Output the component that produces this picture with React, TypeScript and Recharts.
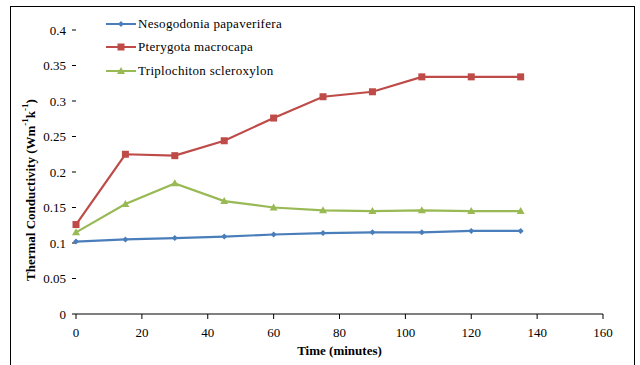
import React from 'react';
import { LineChart, Line, XAxis, YAxis, Label } from 'recharts';

const times = [0, 15, 30, 45, 60, 75, 90, 105, 120, 135];
const nesogodonia = [0.102, 0.105, 0.107, 0.109, 0.112, 0.114, 0.115, 0.115, 0.117, 0.117];
const pterygota = [0.126, 0.225, 0.223, 0.244, 0.276, 0.306, 0.313, 0.334, 0.334, 0.334];
const triplochiton = [0.115, 0.155, 0.184, 0.159, 0.15, 0.146, 0.145, 0.146, 0.145, 0.145];
const xTicks = [0, 20, 40, 60, 80, 100, 120, 140, 160];
const yTicks = [0, 0.05, 0.1, 0.15, 0.2, 0.25, 0.3, 0.35, 0.4];

const series = [
  { key: 'neso', name: 'Nesogodonia papaverifera', color: '#4A7EBB', marker: 'diamond' },
  { key: 'ptery', name: 'Pterygota macrocapa', color: '#BE4B48', marker: 'square' },
  { key: 'tripl', name: 'Triplochiton scleroxylon', color: '#98B954', marker: 'triangle' },
];

const data = times.map((t, i) => ({
  t,
  neso: nesogodonia[i],
  ptery: pterygota[i],
  tripl: triplochiton[i],
}));

const font = '"Liberation Serif", "DejaVu Serif", "Times New Roman", serif';

const Marker = ({ cx, cy, kind, color }: { cx: number; cy: number; kind: string; color: string }) => {
  if (kind === 'square') return <rect x={cx - 3.5} y={cy - 3.5} width={7} height={7} fill={color} />;
  if (kind === 'triangle') return <path d={`M${cx},${cy - 4} L${cx + 4},${cy + 3} L${cx - 4},${cy + 3} Z`} fill={color} />;
  return <path d={`M${cx},${cy - 3} L${cx + 3},${cy} L${cx},${cy + 3} L${cx - 3},${cy} Z`} fill={color} />;
};

const LegendBox = () => (
  <div style={{ position: 'absolute', left: 106, top: 12, fontFamily: font, fontSize: 13, color: '#000' }}>
    {series.map((s) => (
      <div key={s.key} style={{ display: 'flex', alignItems: 'center', height: 23.5 }}>
        <svg width={30} height={10}>
          <line x1={0} y1={5} x2={30} y2={5} stroke={s.color} strokeWidth={2} />
          <Marker cx={15} cy={5} kind={s.marker} color={s.color} />
        </svg>
        <span style={{ marginLeft: 2, letterSpacing: 0.3 }}>{s.name}</span>
      </div>
    ))}
  </div>
);

const YLabel = () => (
  <text
    x={30}
    y={190}
    transform="rotate(-90, 30, 190)"
    textAnchor="middle"
    dominantBaseline="central"
    fontFamily={font}
    fontSize={13}
    fontWeight="bold"
    fill="#000"
  >
    Thermal Conductivity (Wm
    <tspan fontSize={9} dy={-5}>-1</tspan>
    <tspan dy={5}>k</tspan>
    <tspan fontSize={9} dy={-5}>-1</tspan>
    <tspan dy={5}>)</tspan>
  </text>
);

export default function App() {
  return (
    <div style={{ position: 'absolute', left: 0, top: 0, width: 640, height: 365, background: '#fff', overflow: 'hidden', fontFamily: font }}>
      <div style={{ position: 'absolute', left: 10, top: 6, width: 625, height: 370, border: '1px solid #000', boxSizing: 'border-box' }} />
      <div style={{ position: 'absolute', left: 0, top: 0 }}>
        <LineChart width={640} height={365} data={data} margin={{ top: 30, right: 37, bottom: 20, left: 10 }}>
          <XAxis
            dataKey="t"
            type="number"
            domain={[0, 160]}
            ticks={xTicks}
            interval={0}
            stroke="#000"
            tickSize={5}
            tickMargin={9}
            height={31}
            tick={{ fill: '#000', fontSize: 13, fontFamily: font }}
          >
            <Label
              value="Time (minutes)"
              position="insideBottom"
              offset={-10}
              dx={0}
              style={{ fontFamily: font, fontSize: 13, fontWeight: 'bold', fill: '#000' }}
            />
          </XAxis>
          <YAxis
            type="number"
            domain={[0, 0.4]}
            ticks={yTicks}
            interval={0}
            axisLine={false}
            stroke="#000"
            tickSize={4}
            tickMargin={6}
            width={66}
            tick={{ fill: '#000', fontSize: 13, fontFamily: font }}
            label={<YLabel />}
          />
          {series.map((s) => (
            <Line
              key={s.key}
              dataKey={s.key}
              name={s.name}
              stroke={s.color}
              strokeWidth={2.2}
              isAnimationActive={false}
              dot={(p: any) => <Marker key={`${s.key}-${p.index}`} cx={p.cx} cy={p.cy} kind={s.marker} color={s.color} />}
              activeDot={false}
            />
          ))}
        </LineChart>
      </div>
      <LegendBox />
    </div>
  );
}
